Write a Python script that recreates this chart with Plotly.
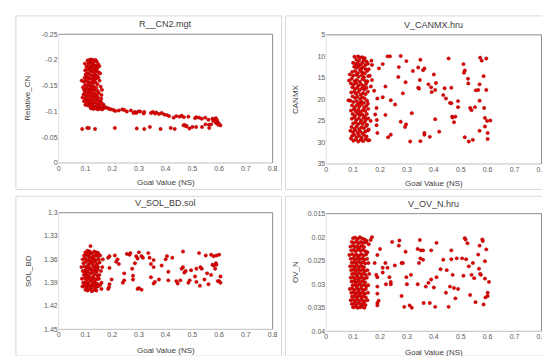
import plotly.graph_objects as go

# ---------------- data ----------------
x_ticks = [0, 0.1, 0.2, 0.3, 0.4, 0.5, 0.6, 0.7, 0.8]
x_tick_labels = ["0", "0.1", "0.2", "0.3", "0.4", "0.5", "0.6", "0.7", "0.8"]

# Panel 1: R__CN2.mgt  (goal value NS, Relative_CN)
cn2_pts = [
    (0.108,-0.199),(0.115,-0.2),(0.121,-0.201),(0.128,-0.2),(0.134,-0.198),(0.142,-0.197),(0.118,-0.195),(0.125,-0.194),
    (0.111,-0.192),(0.098,-0.193),(0.131,-0.191),(0.138,-0.189),(0.148,-0.192),(0.152,-0.188),(0.104,-0.187),(0.116,-0.186),
    (0.122,-0.188),(0.127,-0.184),(0.135,-0.183),(0.145,-0.185),(0.109,-0.182),(0.099,-0.18),(0.118,-0.179),(0.124,-0.178),
    (0.131,-0.177),(0.141,-0.178),(0.15,-0.176),(0.155,-0.174),(0.106,-0.175),(0.113,-0.173),(0.12,-0.171),(0.128,-0.17),
    (0.136,-0.172),(0.144,-0.169),(0.102,-0.168),(0.097,-0.165),(0.11,-0.166),(0.117,-0.164),(0.125,-0.163),(0.133,-0.162),
    (0.14,-0.164),(0.148,-0.166),(0.153,-0.16),(0.086,-0.16),(0.094,-0.158),(0.104,-0.159),(0.112,-0.157),(0.12,-0.156),
    (0.129,-0.155),(0.137,-0.157),(0.145,-0.153),(0.099,-0.152),(0.108,-0.151),(0.116,-0.15),(0.124,-0.149),(0.132,-0.148),
    (0.14,-0.146),(0.091,-0.147),(0.103,-0.145),(0.111,-0.144),(0.119,-0.143),(0.127,-0.142),(0.135,-0.141),(0.146,-0.14),
    (0.098,-0.139),(0.106,-0.138),(0.114,-0.137),(0.122,-0.136),(0.13,-0.135),(0.138,-0.134),(0.15,-0.136),(0.093,-0.133),
    (0.101,-0.132),(0.109,-0.131),(0.117,-0.13),(0.126,-0.129),(0.134,-0.128),(0.143,-0.13),(0.089,-0.127),(0.097,-0.126),
    (0.105,-0.125),(0.113,-0.124),(0.121,-0.123),(0.13,-0.122),(0.139,-0.124),(0.147,-0.121),(0.156,-0.12),(0.095,-0.12),
    (0.103,-0.119),(0.111,-0.118),(0.119,-0.117),(0.127,-0.116),(0.136,-0.117),(0.144,-0.115),(0.152,-0.114),(0.161,-0.116),
    (0.168,-0.113),(0.1,-0.113),(0.108,-0.112),(0.116,-0.111),(0.124,-0.112),(0.133,-0.11),(0.141,-0.109),(0.149,-0.11),
    (0.158,-0.108),(0.165,-0.109),(0.172,-0.107),(0.178,-0.108),(0.185,-0.106),(0.121,-0.106),(0.13,-0.105),(0.138,-0.106),
    (0.146,-0.104),(0.155,-0.105),(0.163,-0.104),(0.19,-0.105),(0.196,-0.104),(0.114,-0.121),(0.123,-0.145),(0.101,-0.172),
    (0.147,-0.127),(0.159,-0.125),(0.16,-0.132),(0.112,-0.197),(0.138,-0.2),(0.128,-0.192),(0.142,-0.181),(0.095,-0.142),
    (0.12,-0.108),(0.157,-0.148),(0.162,-0.142),(0.107,-0.162),(0.132,-0.168),(0.119,-0.186),(0.126,-0.158),(0.115,-0.14),
    (0.205,-0.103),(0.212,-0.101),(0.225,-0.102),(0.238,-0.104),(0.245,-0.103),(0.255,-0.1),(0.27,-0.102),(0.285,-0.099),
    (0.29,-0.097),(0.298,-0.1),(0.305,-0.1),(0.318,-0.096),(0.345,-0.097),(0.352,-0.099),(0.36,-0.096),(0.365,-0.098),
    (0.375,-0.095),(0.385,-0.097),(0.395,-0.094),(0.405,-0.093),(0.413,-0.091),(0.44,-0.091),(0.452,-0.09),(0.46,-0.092),
    (0.468,-0.089),(0.485,-0.09),(0.51,-0.087),(0.515,-0.089),(0.525,-0.088),(0.535,-0.086),(0.548,-0.088),(0.56,-0.084),
    (0.575,-0.086),(0.582,-0.085),(0.588,-0.087),(0.592,-0.083),(0.595,-0.079),(0.59,-0.077),(0.6,-0.076),(0.605,-0.073),
    (0.597,-0.074),(0.585,-0.08),(0.578,-0.082),(0.57,-0.075),(0.562,-0.074),(0.5,-0.07),(0.478,-0.072),(0.47,-0.074),
    (0.28,-0.097),(0.32,-0.099),(0.43,-0.088),
    (0.088,-0.066),(0.107,-0.068),(0.113,-0.068),(0.136,-0.066),(0.21,-0.068),(0.292,-0.067),(0.32,-0.066),(0.341,-0.07),
    (0.381,-0.066),(0.419,-0.068),(0.434,-0.066),(0.467,-0.073),(0.477,-0.071),(0.489,-0.067),(0.514,-0.07),(0.536,-0.07),
    (0.549,-0.075),(0.563,-0.068),
]
cn2_goal = [p[0] for p in cn2_pts]
cn2_value = [p[1] for p in cn2_pts]

# Panel 2: V_CANMX.hru
canmx_pts = [
    (0.105,10.1),(0.118,10.0),(0.126,10.3),(0.134,10.2),(0.143,10.4),(0.112,10.8),(0.122,11.0),(0.139,10.9),(0.15,11.2),
    (0.1,11.5),(0.109,11.8),(0.116,11.6),(0.128,11.9),(0.135,11.5),(0.146,12.0),(0.155,11.7),
    (0.104,12.4),(0.113,12.6),(0.12,12.3),(0.131,12.8),(0.138,12.5),(0.147,13.0),(0.125,13.1),
    (0.097,13.6),(0.108,13.4),(0.117,13.9),(0.129,13.5),(0.136,13.8),(0.143,14.0),(0.152,13.4),
    (0.088,14.2),(0.1,14.5),(0.111,14.3),(0.121,14.7),(0.132,14.4),(0.14,14.9),(0.156,14.6),
    (0.085,15.6),(0.095,15.2),(0.106,15.8),(0.114,15.4),(0.125,15.9),(0.135,15.3),(0.145,15.7),(0.153,15.8),
    (0.092,16.3),(0.102,16.6),(0.112,16.2),(0.12,16.8),(0.13,16.5),(0.139,16.9),(0.148,16.4),
    (0.097,17.2),(0.107,17.6),(0.115,17.3),(0.124,17.8),(0.133,17.4),(0.142,17.7),(0.15,17.3),
    (0.093,18.4),(0.104,18.2),(0.111,18.7),(0.119,18.3),(0.128,18.9),(0.137,18.5),(0.146,18.8),(0.155,18.2),
    (0.098,19.3),(0.108,19.7),(0.116,19.4),(0.126,19.9),(0.134,19.5),(0.143,19.8),
    (0.083,20.2),(0.09,20.3),(0.101,20.6),(0.113,20.4),(0.121,20.9),(0.13,20.5),(0.14,20.8),(0.152,20.3),
    (0.096,21.4),(0.106,21.8),(0.114,21.3),(0.123,21.7),(0.132,21.2),(0.141,21.9),(0.149,21.5),
    (0.092,22.6),(0.103,22.3),(0.11,22.8),(0.119,22.4),(0.127,22.9),(0.136,22.5),(0.145,22.7),(0.156,22.2),
    (0.098,23.4),(0.107,23.8),(0.117,23.3),(0.125,23.7),(0.134,23.5),(0.143,23.9),(0.151,23.4),
    (0.095,24.5),(0.104,24.2),(0.112,24.8),(0.121,24.4),(0.13,24.9),(0.139,24.3),(0.148,24.6),(0.156,24.4),
    (0.1,25.6),(0.109,25.3),(0.118,25.8),(0.127,25.4),(0.136,25.7),(0.144,25.2),(0.152,25.9),
    (0.094,26.4),(0.105,26.8),(0.113,26.3),(0.122,26.9),(0.131,26.5),(0.14,26.7),(0.149,26.2),
    (0.09,27.3),(0.099,27.6),(0.108,27.2),(0.117,27.8),(0.126,27.4),(0.135,27.9),(0.145,27.5),(0.155,27.2),
    (0.096,28.5),(0.104,28.2),(0.113,28.8),(0.122,28.4),(0.131,28.9),(0.14,28.3),(0.15,28.6),
    (0.092,29.1),(0.101,29.6),(0.11,29.3),(0.119,29.8),(0.128,29.4),(0.137,29.7),(0.146,29.2),(0.155,29.5),
    (0.168,11),(0.17,12),(0.158,13),(0.166,17),(0.19,19.8),(0.187,22),(0.182,23.5),(0.188,24.8),(0.187,26),
    (0.19,27.8),(0.158,27),(0.165,25),(0.178,18),(0.17,15.5),(0.162,14.5),(0.196,12.8),(0.155,21),(0.16,29.5),
    (0.21,11.8),(0.228,10),(0.237,10),(0.21,19.5),(0.22,17),(0.22,23.6),(0.24,20.2),(0.256,21.2),(0.268,14.8),
    (0.27,12.5),(0.277,9.9),(0.285,18.6),(0.23,28.8),(0.24,28.2),(0.277,25.2),(0.293,26.4),(0.297,25.8),(0.295,16),
    (0.298,11.1),(0.312,29.8),(0.318,23.2),(0.322,13.4),(0.35,10.8),(0.342,12.6),(0.36,13.2),(0.365,12.8),
    (0.348,15.5),(0.342,17.3),(0.345,17.5),(0.365,27.8),(0.365,28.2),(0.35,29.7),(0.385,28.7),(0.38,16.5),
    (0.39,17.2),(0.392,18.3),(0.4,14.2),(0.408,16.2),(0.405,17.8),(0.405,24.6),(0.42,27.5),(0.435,19),(0.44,17.4),
    (0.445,19.8),(0.455,10.5),(0.46,20.8),(0.465,17.3),(0.465,20.9),(0.468,24),(0.47,24.2),(0.475,25.3),(0.48,24),
    (0.49,21.8),(0.49,20.4),(0.51,11.8),(0.512,13.8),(0.515,13.3),(0.515,28.8),(0.527,15.2),(0.528,16.3),(0.53,29.8),
    (0.535,22),(0.54,22.5),(0.545,29.4),(0.553,21.8),(0.556,17.9),(0.565,17.8),(0.57,16.5),(0.57,20.3),(0.57,27.3),
    (0.572,10.3),(0.578,11),(0.585,14.6),(0.587,22),(0.59,24.3),(0.59,26.3),(0.595,10.5),(0.595,17.8),(0.598,25),
    (0.6,27.8),(0.6,29.2),(0.61,24.9),
]
canmx_goal = [p[0] for p in canmx_pts]
canmx_value = [p[1] for p in canmx_pts]

# Panel 3: V_SOL_BD.sol
solbd_pts = [
    (0.1,1.351),(0.108,1.349),(0.116,1.35),(0.124,1.352),(0.133,1.35),(0.142,1.351),(0.148,1.352),
    (0.095,1.355),(0.104,1.354),(0.112,1.356),(0.12,1.353),(0.129,1.357),(0.137,1.354),(0.146,1.356),(0.155,1.355),
    (0.09,1.36),(0.099,1.359),(0.107,1.361),(0.115,1.358),(0.123,1.362),(0.131,1.359),(0.14,1.361),(0.15,1.36),
    (0.093,1.365),(0.102,1.363),(0.11,1.367),(0.118,1.364),(0.127,1.366),(0.135,1.363),(0.144,1.366),(0.153,1.364),
    (0.085,1.37),(0.097,1.369),(0.105,1.371),(0.113,1.368),(0.121,1.372),(0.13,1.369),(0.138,1.371),(0.147,1.37),
    (0.09,1.375),(0.1,1.374),(0.108,1.376),(0.116,1.373),(0.125,1.377),(0.133,1.374),(0.142,1.376),(0.158,1.375),
    (0.094,1.38),(0.103,1.379),(0.111,1.381),(0.119,1.378),(0.128,1.382),(0.136,1.379),(0.145,1.381),(0.152,1.38),
    (0.087,1.385),(0.098,1.384),(0.106,1.386),(0.114,1.383),(0.122,1.387),(0.131,1.384),(0.139,1.386),(0.148,1.385),
    (0.092,1.39),(0.101,1.389),(0.109,1.391),(0.117,1.388),(0.126,1.392),(0.134,1.389),(0.143,1.391),(0.16,1.39),
    (0.089,1.395),(0.097,1.394),(0.105,1.396),(0.113,1.393),(0.121,1.397),(0.13,1.394),(0.138,1.396),(0.147,1.395),(0.155,1.393),
    (0.1,1.399),(0.108,1.4),(0.116,1.398),(0.124,1.401),(0.133,1.399),(0.141,1.4),
    (0.119,1.343),(0.112,1.353),(0.126,1.358),(0.111,1.37),(0.128,1.375),(0.107,1.382),(0.124,1.388),(0.135,1.393),
    (0.117,1.362),(0.14,1.368),(0.098,1.377),(0.15,1.385),(0.163,1.37),(0.165,1.36),(0.16,1.398),(0.118,1.385),
    (0.103,1.393),(0.132,1.356),(0.145,1.373),(0.12,1.395),
    (0.185,1.358),(0.19,1.356),(0.19,1.371),(0.19,1.392),(0.185,1.398),(0.188,1.396),(0.198,1.386),(0.21,1.355),
    (0.215,1.363),(0.22,1.36),(0.225,1.366),(0.24,1.39),(0.245,1.387),(0.245,1.378),(0.255,1.353),(0.265,1.354),
    (0.268,1.352),(0.275,1.372),(0.278,1.381),(0.278,1.386),(0.285,1.365),(0.29,1.356),(0.295,1.359),(0.3,1.351),
    (0.3,1.397),(0.31,1.356),(0.31,1.399),(0.315,1.358),(0.335,1.352),(0.34,1.358),(0.345,1.366),(0.345,1.383),
    (0.355,1.361),(0.355,1.37),(0.355,1.391),(0.36,1.389),(0.375,1.386),(0.385,1.368),(0.4,1.36),(0.405,1.356),
    (0.41,1.376),(0.41,1.387),(0.425,1.358),(0.44,1.388),(0.445,1.391),(0.455,1.387),(0.46,1.372),(0.465,1.37),
    (0.465,1.35),(0.47,1.377),(0.475,1.375),(0.485,1.39),(0.49,1.387),(0.495,1.374),(0.51,1.382),(0.515,1.372),
    (0.515,1.389),(0.525,1.352),(0.528,1.394),(0.53,1.37),(0.535,1.372),(0.545,1.386),(0.55,1.355),(0.555,1.378),
    (0.56,1.392),(0.57,1.354),(0.575,1.367),(0.58,1.368),(0.585,1.372),(0.588,1.365),(0.59,1.367),(0.6,1.354),
    (0.6,1.388),(0.605,1.382),(0.605,1.39),(0.57,1.38),(0.58,1.356),(0.59,1.355),(0.295,1.398),(0.595,1.388),
]
solbd_goal = [p[0] for p in solbd_pts]
solbd_value = [p[1] for p in solbd_pts]

# Panel 4: V_OV_N.hru
ovn_pts = [
    (0.1,0.0202),(0.108,0.0201),(0.117,0.0204),(0.125,0.0200),(0.134,0.0203),(0.143,0.0205),(0.15,0.0208),
    (0.095,0.021),(0.104,0.0212),(0.112,0.0209),(0.12,0.0213),(0.129,0.021),(0.138,0.0212),(0.147,0.0211),(0.158,0.0215),
    (0.09,0.022),(0.099,0.0218),(0.107,0.0221),(0.115,0.0219),(0.124,0.0222),(0.132,0.0218),(0.141,0.0221),(0.165,0.0206),
    (0.093,0.0228),(0.102,0.0227),(0.11,0.023),(0.118,0.0226),(0.127,0.0229),(0.136,0.0227),(0.145,0.023),(0.153,0.0232),
    (0.086,0.0238),(0.097,0.0236),(0.105,0.0239),(0.113,0.0237),(0.122,0.024),(0.13,0.0236),(0.139,0.0239),(0.148,0.0237),
    (0.091,0.0246),(0.1,0.0245),(0.108,0.0248),(0.116,0.0244),(0.125,0.0247),(0.134,0.0245),(0.142,0.0248),(0.152,0.0246),
    (0.095,0.0254),(0.103,0.0253),(0.111,0.0256),(0.119,0.0252),(0.128,0.0255),(0.137,0.0253),(0.145,0.0256),(0.157,0.0255),
    (0.089,0.0262),(0.098,0.0261),(0.106,0.0264),(0.114,0.026),(0.123,0.0263),(0.131,0.0261),(0.14,0.0264),
    (0.093,0.027),(0.102,0.0269),(0.11,0.0272),(0.118,0.0268),(0.127,0.0271),(0.135,0.0269),(0.144,0.0272),(0.153,0.027),
    (0.096,0.0278),(0.105,0.0277),(0.113,0.028),(0.121,0.0276),(0.13,0.0279),(0.138,0.0277),(0.147,0.028),(0.16,0.0278),
    (0.091,0.0286),(0.1,0.0285),(0.108,0.0288),(0.116,0.0284),(0.125,0.0287),(0.133,0.0285),(0.142,0.0288),(0.151,0.0286),
    (0.094,0.0294),(0.103,0.0293),(0.111,0.0296),(0.119,0.0292),(0.128,0.0295),(0.136,0.0293),(0.145,0.0296),
    (0.098,0.0302),(0.107,0.0301),(0.115,0.0304),(0.123,0.03),(0.132,0.0303),(0.14,0.0301),(0.149,0.0304),(0.156,0.0302),
    (0.088,0.031),(0.097,0.0309),(0.105,0.0312),(0.113,0.0308),(0.122,0.0311),(0.13,0.0309),(0.139,0.0312),(0.147,0.031),
    (0.093,0.0318),(0.102,0.0317),(0.11,0.032),(0.118,0.0316),(0.127,0.0319),(0.135,0.0317),(0.144,0.032),(0.155,0.0318),
    (0.096,0.0326),(0.105,0.0325),(0.113,0.0328),(0.121,0.0324),(0.13,0.0327),(0.138,0.0325),(0.147,0.0328),
    (0.091,0.0334),(0.1,0.0333),(0.108,0.0336),(0.116,0.0332),(0.125,0.0335),(0.133,0.0333),(0.142,0.0336),(0.153,0.0334),
    (0.095,0.0342),(0.104,0.0341),(0.112,0.0344),(0.12,0.034),(0.129,0.0343),(0.137,0.0341),(0.146,0.0344),
    (0.1,0.0349),(0.109,0.0348),(0.117,0.035),(0.126,0.0349),(0.135,0.0348),(0.142,0.035),
    (0.17,0.02),(0.18,0.0255),(0.19,0.0238),(0.186,0.028),(0.19,0.0285),(0.19,0.0305),(0.19,0.032),(0.19,0.034),
    (0.19,0.0345),(0.195,0.0335),(0.2,0.0225),(0.21,0.0265),(0.21,0.0275),(0.22,0.0255),(0.222,0.03),(0.228,0.0265),
    (0.235,0.0285),(0.24,0.03),(0.24,0.0295),(0.245,0.021),(0.255,0.026),(0.27,0.0218),(0.272,0.0207),(0.28,0.0325),
    (0.28,0.0255),(0.285,0.0255),(0.29,0.0348),(0.295,0.0231),(0.298,0.0285),(0.3,0.03),(0.31,0.0345),(0.315,0.028),
    (0.318,0.035),(0.34,0.0225),(0.34,0.03),(0.345,0.0255),(0.348,0.0206),(0.35,0.0245),(0.352,0.0228),(0.36,0.0228),
    (0.36,0.0248),(0.362,0.034),(0.37,0.0305),(0.38,0.0297),(0.385,0.034),(0.39,0.0228),(0.39,0.029),(0.4,0.0307),
    (0.405,0.0348),(0.41,0.0212),(0.41,0.0285),(0.425,0.0268),(0.435,0.0248),(0.445,0.0318),(0.448,0.027),(0.455,0.0348),
    (0.46,0.0305),(0.465,0.0247),(0.465,0.0228),(0.47,0.028),(0.475,0.0308),(0.48,0.033),(0.485,0.0245),(0.49,0.031),
    (0.505,0.0245),(0.51,0.0282),(0.515,0.0202),(0.518,0.0205),(0.52,0.0247),(0.525,0.0213),(0.53,0.0262),(0.535,0.0323),
    (0.54,0.028),(0.545,0.0255),(0.55,0.0287),(0.555,0.0338),(0.565,0.0237),(0.568,0.0267),(0.57,0.0218),(0.572,0.0278),
    (0.575,0.028),(0.58,0.0205),(0.582,0.0208),(0.585,0.0343),(0.59,0.0251),(0.595,0.0226),(0.59,0.0288),(0.6,0.0318),
    (0.6,0.0325),(0.605,0.0295),(0.592,0.0328),
]
ovn_goal = [p[0] for p in ovn_pts]
ovn_value = [p[1] for p in ovn_pts]

titles = ["R__CN2.mgt", "V_CANMX.hru", "V_SOL_BD.sol", "V_OV_N.hru"]
y_titles = ["Relative_CN", "CANMX", "SOL_BD", "OV_N"]
x_title = "Goal Value (NS)"

cn2_ticks = [-0.25, -0.2, -0.15, -0.1, -0.05, 0]
cn2_labels = ["-0.25", "-0.2", "-0.15", "-0.1", "-0.05", "0"]
canmx_ticks = [5, 10, 15, 20, 25, 30, 35]
canmx_labels = ["5", "10", "15", "20", "25", "30", "35"]
solbd_ticks = [1.3, 1.33, 1.36, 1.39, 1.42, 1.45]
solbd_labels = ["1.3", "1.33", "1.36", "1.39", "1.42", "1.45"]
ovn_ticks = [0.015, 0.02, 0.025, 0.03, 0.035, 0.04]
ovn_labels = ["0.015", "0.02", "0.025", "0.03", "0.035", "0.04"]

# ---------------- layout ----------------
W, H = 550, 356
FONT = "Liberation Sans"
TICK_COL = "#595959"
TEXT_COL = "#404040"

def px_x(v):
    return v / W

def px_y(v):
    return 1 - v / H

panels = [
    (cn2_goal, cn2_value, (49.3, 266.0, 22.7, 154.0), [0, -0.25], cn2_ticks, cn2_labels, (6, 275, 4, 181)),
    (canmx_goal, canmx_value, (320.3, 538.3, 23.3, 155.0), [35, 5], canmx_ticks, canmx_labels, (279, 547, 4, 181)),
    (solbd_goal, solbd_value, (49.3, 266.0, 204.7, 323.7), [1.45, 1.3], solbd_ticks, solbd_labels, (6, 275, 188, 351)),
    (ovn_goal, ovn_value, (320.3, 538.3, 205.7, 325.7), [0.04, 0.015], ovn_ticks, ovn_labels, (279, 547, 188, 351)),
]

fig = go.Figure()
shapes = []
annotations = []

for i, (gx, gy, box, yr, yt, yl, outer) in enumerate(panels):
    n = "" if i == 0 else str(i + 1)
    xa, ya = "x" + n, "y" + n
    x0, x1, yt_px, yb_px = box
    fig.add_trace(go.Scatter(
        x=gx, y=gy, mode="markers", xaxis=xa, yaxis=ya, showlegend=False,
        marker=dict(size=3.4, color="#E00000", line=dict(color="#9a0000", width=0.4)),
        hoverinfo="x+y",
    ))
    fig.layout["xaxis" + n] = dict(
        domain=[px_x(x0), px_x(x1)], anchor=ya, range=[0, 0.8],
        tickvals=x_ticks, ticktext=x_tick_labels, showgrid=False, zeroline=False,
        showline=False, ticks="", tickfont=dict(family=FONT, size=7, color=TICK_COL),
        fixedrange=True,
    )
    fig.layout["yaxis" + n] = dict(
        domain=[px_y(yb_px), px_y(yt_px)], anchor=xa, range=yr,
        tickvals=yt, ticktext=yl, showgrid=False, zeroline=False,
        showline=False, ticks="", tickfont=dict(family=FONT, size=7, color=TICK_COL),
        fixedrange=True,
    )
    ox0, ox1, oy0, oy1 = outer
    shapes.append(dict(type="rect", xref="paper", yref="paper",
                       x0=px_x(ox0), x1=px_x(ox1), y0=px_y(oy1), y1=px_y(oy0),
                       line=dict(color="#d9d9d9", width=1), fillcolor="rgba(0,0,0,0)", layer="below"))
    dark = dict(color="#8c8c8c", width=1)
    light = dict(color="#bfbfbf", width=1)
    shapes.append(dict(type="line", xref="paper", yref="paper", x0=px_x(x0), x1=px_x(x1),
                       y0=px_y(yt_px), y1=px_y(yt_px), line=dark))
    shapes.append(dict(type="line", xref="paper", yref="paper", x0=px_x(x1), x1=px_x(x1),
                       y0=px_y(yt_px), y1=px_y(yb_px), line=dark))
    shapes.append(dict(type="line", xref="paper", yref="paper", x0=px_x(x0), x1=px_x(x1),
                       y0=px_y(yb_px), y1=px_y(yb_px), line=light))
    shapes.append(dict(type="line", xref="paper", yref="paper", x0=px_x(x0), x1=px_x(x0),
                       y0=px_y(yt_px), y1=px_y(yb_px), line=dict(color="#e0e0e0", width=1)))
    annotations.append(dict(text=titles[i], xref="paper", yref="paper",
                            x=px_x((x0 + x1) / 2), y=px_y(yt_px - 10), showarrow=False,
                            xanchor="center", yanchor="middle",
                            font=dict(family=FONT, size=9, color=TEXT_COL)))
    xt_y = yb_px + (20 if i < 2 else 22)
    annotations.append(dict(text=x_title, xref="paper", yref="paper",
                            x=px_x((x0 + x1) / 2), y=px_y(xt_y), showarrow=False,
                            xanchor="center", yanchor="middle",
                            font=dict(family=FONT, size=8, color=TEXT_COL)))
    annotations.append(dict(text=y_titles[i], xref="paper", yref="paper",
                            x=px_x(x0 - 31), y=px_y((yt_px + yb_px) / 2), showarrow=False,
                            textangle=-90, xanchor="center", yanchor="middle",
                            font=dict(family=FONT, size=8, color=TEXT_COL)))

fig.update_layout(
    width=W, height=H, margin=dict(l=0, r=0, t=0, b=0),
    paper_bgcolor="white", plot_bgcolor="white",
    shapes=shapes, annotations=annotations,
)

fig.write_html("out.html")
